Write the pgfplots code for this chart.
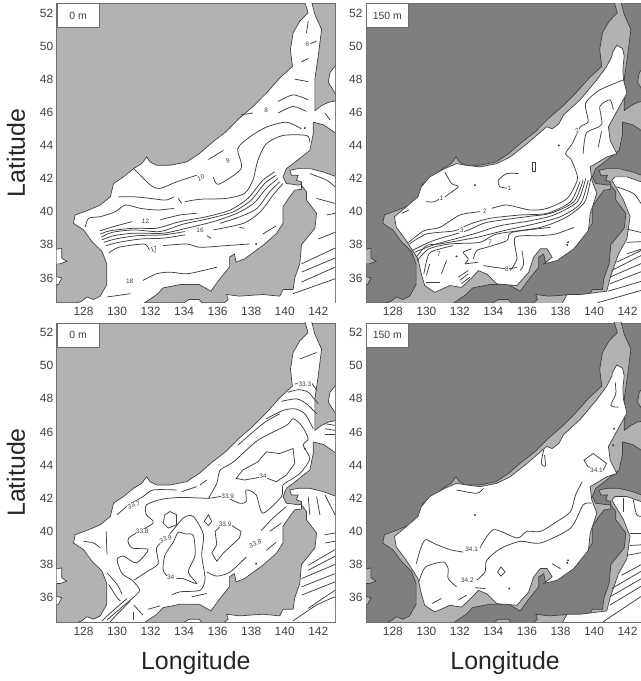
\documentclass[border=0pt]{standalone}
\usepackage{fontspec}
\setmainfont{Liberation Sans}
\usepackage{pgfplots}
\pgfplotsset{compat=1.18}
\definecolor{lightland}{HTML}{B2B2B2}
\definecolor{darkland}{HTML}{7F7F7F}
\definecolor{ink}{HTML}{404040}
\definecolor{spine}{HTML}{6E6E6E}
\newcommand\C[1]{\addplot[cl] coordinates {#1};}
\newcommand\CC[1]{\addplot[cl,sharp plot] coordinates {#1} --cycle;}
\newcommand\Lb[3][0]{\node[font=\fontsize{6.5}{7}\selectfont,text=ink,rotate=#1,fill=white,inner sep=0.4pt] at (axis cs:#2) {#3};}
\newcommand\Dots[1]{\addplot[only marks,mark=*,mark size=0.8bp,color=ink] coordinates {#1};}
\newcommand\Sea[1]{%
\addplot[coast,fill=#1] coordinates {(141.19,52.7) (141.39,52.0) (140.9,51.5) (140.5,50.8) (140.34,49.78) (140.46,48.77) (139.7,48.06) (138.9,47.15) (138.1,46.34) (137.3,45.64) (136.5,44.83) (135.7,44.2) (134.9,43.5) (134.15,43.0) (133.16,42.8) (132.37,42.8) (131.97,43.0) (131.77,43.3) (131.47,42.9) (130.98,42.6) (130.38,42.1) (129.79,41.7) (129.6,40.9) (129.0,40.4) (128.3,40.1) (127.5,39.8) (127.4,39.3) (128.0,38.9) (128.5,38.2) (129.1,37.6) (129.39,36.85) (129.39,35.6) (129.0,34.9) (128.6,34.7) (128.2,34.85) (127.9,34.6) (127.5,34.45) (131.57,34.45) (132.37,35.0) (132.76,35.4) (133.75,35.6) (134.9,35.6) (135.6,35.2) (136.1,35.9) (136.7,36.65) (136.7,37.25) (137.0,37.45) (137.1,36.95) (137.6,37.15) (138.7,37.96) (139.5,38.67) (139.9,39.3) (139.9,40.3) (140.3,40.9) (140.6,41.3) (141.0,41.35) (141.0,41.65) (140.8,41.6) (140.5,41.65) (140.1,41.7) (139.9,42.1) (140.1,42.6) (140.5,42.9) (141.5,43.7) (141.7,44.7) (141.7,45.4) (142.3,45.25) (143.1,44.7) (143.1,46.7) (142.6,46.6) (142.2,46.4) (141.8,46.1) (141.8,47) (141.8,48) (142,49.4) (142.2,51) (141.8,51.9) (141.6,52.7)} --cycle;
\addplot[coast,fill=#1] coordinates {(140.3,42.5) (140.8,42.6) (141.5,42.6) (142.3,42.4) (143.1,42.1) (143.1,34.45) (136.33,34.45) (136.63,34.7) (136.53,35) (137.3,34.9) (138.7,35) (139.7,34.9) (139.9,35.3) (140.5,35.3) (140.6,36) (140.9,36.85) (141,38) (141.8,39) (141.9,39.9) (141.3,40.7) (141.3,41.2) (141,41.6) (141,41.8) (140.7,41.9) (140.8,42.2) (140.4,42.2)} --cycle;
\addplot[coast,fill=#1] coordinates {(143.1,48.9) (142.7,48.4) (142.6,47.8) (143.1,47.0)} --cycle;
\addplot[coast,fill=#1] coordinates {(133.9,34.45) (134.3,34.7) (134.9,34.7) (135.1,34.45)} --cycle;
\addplot[coast,fill=#1] coordinates {(126.3,37.7) (126.7,37.8) (126.7,37.2) (127,37) (126.6,36.85) (126.3,36.85)} --cycle;
\addplot[coast,fill=#1] coordinates {(126.3,36.1) (126.7,36) (126.5,35.6) (126.3,35.6)} --cycle;
}
\newcommand\Deep{%
\addplot[coast,fill=white] coordinates {(141.36,50.05) (141.1,49.6) (141.06,49.37) (140.76,48.77) (140.17,47.96) (139.17,46.75) (138.18,45.84) (137.9,45.3) (137.5,45.0) (137.18,45.13) (136.0,44.1) (135.0,43.3) (134.2,42.9) (133.2,42.7) (132.4,42.8) (131.8,42.9) (131.1,42.6) (130.2,42.1) (129.7,41.5) (129.5,40.9) (128.7,40.2) (128.1,39.7) (128.2,39.07) (128.8,38.26) (129.5,37.15) (129.7,36.24) (129.9,35.54) (130.5,35.13) (131.4,35.54) (132.1,35.43) (132.7,36.0) (133.1,36.44) (133.6,36.24) (134.2,35.64) (135.4,35.54) (136.1,36.34) (136.4,37.25) (136.8,37.76) (137.2,37.76) (137.5,37.25) (137.0,36.85) (137.8,37.05) (138.8,37.76) (139.67,38.87) (139.77,39.88) (140.17,41.1) (139.87,41.9) (139.77,42.7) (140.76,43.3) (141.36,43.5) (140.96,44.3) (140.86,45.13) (141.96,47.15) (141.76,47.96) (141.72,48.6) (141.8,49.4) (141.7,49.85)} --cycle;
\addplot[coast,fill=white] coordinates {(141.06,41.9) (141.26,42.1) (141.96,42.1) (143.1,41.7) (143.1,34.45) (138.08,34.45) (138.4,35) (139.2,35) (140.76,35.2) (140.96,36) (141.46,37.45) (141.96,38.35) (142.15,39.7) (141.76,40.7)} --cycle;
}
\pgfplotsset{
 cl/.style={color=ink,line width=0.75bp,smooth,tension=0.45,no markers},
 coast/.style={draw=ink,line width=0.7bp,no markers,forget plot},
 panel/.style={
  scale only axis,width=278.3bp,height=299bp,
  xmin=126.4,xmax=143,ymin=34.53,ymax=52.58,
  xtick={128,130,...,142},ytick={36,38,...,52},
  major tick length=0pt,
  axis line style={color=spine,line width=0.8bp},
  tick label style={font=\fontsize{12}{14}\selectfont,text=ink},
  /pgf/number format/assume math mode=true,
  xticklabel style={yshift=-1.5bp},
  yticklabel style={xshift=0bp},
  clip=true,
 },
 ylab/.style={ylabel={Latitude},ylabel style={font=\fontsize{25}{28}\selectfont,text=black!85,at={(axis description cs:-0.146,0.5)},anchor=center,rotate=0}},
 xlab/.style={xlabel={Longitude},xlabel style={font=\fontsize{25}{28}\selectfont,text=black!85,at={(axis description cs:0.5,-0.137)},anchor=center}},
}
\newcommand\Tag[1]{\node[draw=spine,line width=0.7bp,fill=white,anchor=north west,minimum width=42bp,minimum height=24bp,inner sep=0pt,font=\fontsize{10.5}{12}\selectfont,text=ink] at (rel axis cs:0,1) {#1};}
\begin{document}
\begin{tikzpicture}[x=1bp,y=1bp]
\useasboundingbox (0,0) rectangle (641,681);
% ---------- top left: 0 m temperature
\begin{axis}[panel,ylab,at={(56.7bp,378.7bp)},axis background/.style={fill=lightland}]
\Sea{white}
\C{(130.1,40.9) (131,40.9) (132,40.8) (132.9,40.7) (133.4,40.9)}
\C{(128.1,39.05) (128.3,39.6) (129,39.7) (129.9,40) (130.5,40.4) (131.4,40.2) (132.4,40.1) (133.4,40.2)}
\C{(134.05,40.6) (134.95,40.75) (136.5,40.8) (137.6,41.1) (138.1,41.9) (138.4,43.1) (138.9,44.1) (139.9,44.6) (141.3,44.6) (141.5,44.2)}
\C{(135.75,42.1) (136.05,41.65) (137.4,42.6) (137.2,43.8) (137.9,44.5) (138.9,45.1) (140.1,45.4) (141,45)}
\C{(139.6,45.95) (140.5,46.35) (141.3,46.05)}
\C{(137.4,45.85) (138.1,45.95)}
\C{(139.6,46.65) (140.5,47.05) (141.4,46.75)}
\C{(140.6,48) (141.4,47.85)}
\C{(141,49.05) (141.4,49.25)}
\C{(141.4,51.5) (141.3,50.8)}
\C{(141.2,50) (141.9,50.3)}
\C{(135.45,43.15) (136.35,43.7)}
\C{(131,42.6) (132,41.6) (132.55,41.4) (133.55,41.8) (134.75,42.2)}
\C{(129,38.85) (129.8,39.1) (130.9,39.4)}
\C{(132.55,39.5) (133.75,39.8) (134.75,39.9)}
\C{(129,38.65) (129.6,38.85) (131,39) (132.35,39) (133.75,39.4) (135.35,39.7) (136.75,40.1) (137.8,40.8) (138.7,41.9) (139.4,42.4)}
\C{(129.05,38.45) (129.7,38.75) (131,38.9) (132.55,38.8) (133.95,39.25) (135.55,39.6) (136.95,40) (138,40.7) (138.8,41.7) (139.5,42.2)}
\C{(129.1,38.3) (129.8,38.55) (131,38.7) (132.75,38.7) (134.15,39) (135.75,39.4) (137.15,39.9) (138.15,40.5) (138.9,41.4) (139.6,42)}
\C{(129.2,38.15) (129.9,38.35) (131.2,38.55) (132.75,38.6) (134.05,38.8)}
\C{(136.15,39.3) (137.35,39.7) (138.35,40.2) (139.1,41.2) (139.7,41.8)}
\C{(129.35,37.95) (130.1,38.15) (131.4,38.35) (132.75,38.4) (134.05,38.6)}
\C{(135.75,38.9) (137.55,39.3) (138.55,40) (139.3,41) (139.9,41.7)}
\C{(129.5,37.5) (130.1,37.85) (131.6,38.05) (131.9,37.75) (132.3,37.55)}
\C{(132.75,37.95) (134.15,38.05) (134.95,37.85) (136.5,37.95) (137.9,38.05)}
\C{(138.7,38.65) (139.5,39.15)}
\C{(131.55,35.85) (132.35,36.25) (133.15,36.35) (134.15,36.25) (135.15,36.45) (135.95,36.65)}
\C{(129.4,34.85) (130.8,35.05)}
\C{(137.3,39.05) (137.6,39)}
\C{(135.35,38.55) (135.6,38.4)}
\C{(133.65,40.8) (133.85,40.5)}
\C{(140.5,35.05) (143,35.95)}
\C{(141,35.75) (143,36.65)}
\C{(141,36.35) (143,37.2)}
\C{(141,36.85) (143,37.8)}
\C{(142,38.35) (143,38.75)}
\C{(142.5,39.8) (143,39.9)}
\C{(141.9,40.8) (143,40.5)}
\C{(141.5,42.3) (142.5,41.9) (143,41.5)}
\C{(142.4,45.95) (142.7,45.55)}
\Dots{(138.3,38.05) (141.2,45.05)}
\Lb{138.9,46.15}{8}\Lb[20]{136.6,43.05}{9}\Lb[20]{135,42.05}{10}\Lb{131.7,39.4}{12}\Lb{134.95,38.85}{16}\Lb[20]{132.2,37.75}{17}\Lb{130.75,35.8}{18}\Lb{141.35,50.1}{6}
\Tag{0 m}
\end{axis}
% ---------- top right: 150 m temperature
\begin{axis}[panel,at={(366bp,378.7bp)},axis background/.style={fill=darkland}]
\Sea{lightland}
\Deep
\C{(128.55,39.9) (128.95,40.1)}
\C{(129.95,40.6) (130.5,40.6) (130.8,40.8)}
\C{(131.1,40.9) (131.9,41.5) (131.5,41.7) (131.1,42.4)}
\C{(135,41.4) (134.4,41.5) (134.3,41.9) (134.8,42.3) (135.5,42.3)}
\CC{(136.33,43) (136.5,43) (136.5,42.45) (136.33,42.45)}
\C{(128.95,38.15) (129.85,38.85) (130.8,39.05) (132,39.8) (133.2,40)}
\C{(133.9,40.2) (134.8,40.4) (136.2,40.1) (137.2,40.2) (138.4,40.8) (139,41.9) (138.9,42.5) (138.6,43.2) (138.3,43.5) (138.7,44.1) (139,44.75) (139.2,45.15) (139.65,45.45) (139.5,46.55) (140.35,47.35) (141.75,47.95)}
\C{(139.35,43.5) (139.55,44.75) (140.45,45.25) (140.35,46.35) (140.95,46.75) (141.15,46.15)}
\C{(140.25,43.9) (140.45,44.85)}
\C{(129,38.05) (130,38.65) (131.7,38.85) (132.6,39.25) (133.8,39.6) (135.6,39.8) (137.2,39.9) (138.6,40.6) (139.15,41.8)}
\C{(129.15,37.65) (130.4,38.25) (132.4,38.85) (133.6,39.35) (136,39.7) (137.4,39.9) (138.8,40.6) (139.35,41.9)}
\C{(129.3,37.55) (130.6,38.05) (132.8,38.65) (134.4,39.15) (136.2,39.45) (137.6,39.8) (139,40.6) (139.5,42)}
\C{(129.4,37.25) (130,37.95) (130.8,38.05) (133,38.45) (134.6,38.85) (136.4,39.25) (138,39.7) (139.2,40.5) (139.65,41.9)}
\C{(129.45,37.05) (130.15,37.75) (131.4,38.05) (133.2,38.15) (134.2,38.65) (136.8,39.05) (138.4,39.7) (139.45,40.6) (139.8,42)}
\C{(129.85,36.25) (130.15,37.45) (130.8,37.75) (131.6,37.95)}
\C{(132.3,36.85) (132.5,37.15) (132.2,37.55) (132.7,37.75)}
\C{(132.8,37.15) (133,37.65) (133.6,37.85) (134.8,38.25) (135.1,38.75) (137.4,39.05)}
\C{(135,36.45) (135.4,37.15) (135.3,38.45) (136.8,38.55) (137.7,38.65) (138.8,39.05)}
\C{(130,36.15) (130.2,36.85)}
\C{(130.9,36.25) (131.2,37.05)}
\C{(132.3,36.85) (133.1,36.95)}
\C{(133.4,36.75) (134.8,36.55) (135.4,36.65)}
\C{(135.7,37.65) (135.8,36.85) (135.6,36.45)}
\C{(130,35.75) (130.8,35.75)}
\C{(131.9,36.05) (132.5,36.45)}
\C{(132,35.85) (132.5,36.25)}
\C{(132.1,35.65) (132.6,36.05)}
\C{(140.2,34.5) (141.95,35) (143,35.3)}
\C{(140.85,35.2) (143,35.85)}
\C{(140.95,35.65) (143,36.45)}
\C{(140.95,36.05) (143,36.95)}
\C{(141.05,36.45) (143,37.45)}
\C{(141.35,36.95) (143,37.75)}
\C{(141.95,37.45) (143,37.8)}
\C{(141.95,38.15) (143,38.2)}
\C{(141.95,38.95) (143,38.7)}
\C{(141.35,41.5) (142.35,41.1) (142.8,40.5) (143,40.3)}
\Dots{(137.9,44) (132.9,41.6) (138.4,38) (138.45,38.15) (131.8,37.3)}
\Lb{130.9,40.8}{1}\Lb{134.95,41.4}{1}\Lb{133.5,40}{2}\Lb[20]{139,44.9}{2}\Lb{132.1,38.9}{3}\Lb{133.8,38.15}{7}\Lb{130.75,37.4}{7}\Lb{134.8,36.55}{8}
\Tag{150 m}
\end{axis}
% ---------- bottom left: 0 m salinity
\begin{axis}[panel,ylab,xlab,at={(56.7bp,59bp)},axis background/.style={fill=lightland}]
\Sea{white}
\C{(140.9,50.4) (141.9,50.8)}
\C{(140.6,48.9) (141.2,48.95) (141.6,48.95) (141.9,48.5)}
\C{(140.2,48.4) (140.8,48.55) (141.4,48.4) (142,47.7)}
\C{(139.8,47.85) (140.7,48) (141.3,47.7) (141.9,47.1)}
\C{(138.9,46.8) (139.9,47.3) (140.6,47.4) (141.2,47.1) (141.7,46.2)}
\C{(137.2,45.2) (138.7,46.5) (139.7,47.1)}
\C{(135.45,42) (135.95,42.9) (136.15,43.7) (136.95,44.2) (138.4,45.5) (140.1,46.4) (140.5,46.8) (141,46.4) (141.4,45.6) (141.1,45.2) (141.5,44.4) (141,43.6) (140.5,43.2) (139.9,42.8) (139.8,42.1) (138.7,41.1) (138.3,42.2) (137.7,42.5) (137.7,41.8) (137.3,41.7) (136.35,42.1) (135.45,42) (133.9,42.05) (132.7,41.95) (131.75,41.6) (131.75,41) (132.15,40.5) (130.7,39.6) (130.9,39) (131.85,38.9) (131.15,38.1) (130.4,38.5) (130,38.3) (130.3,37.45) (130.9,37.05) (131.35,36.45) (130.9,35.95) (130.2,35.35) (129.4,34.65)}
\C{(130,41) (130.7,41.6) (131.55,42.1) (132.15,42.5) (133.55,42.5)}
\C{(133.85,42.4) (134.75,42.7)}
\C{(134.95,42.8) (135.35,43.1)}
\CC{(132.85,41.0) (133.15,41.2) (133.55,41) (133.55,40.4) (133.05,40.2) (132.75,40.5)}
\CC{(135.45,41) (135.65,40.6) (135.45,40.35) (135.2,40.6)}
\C{(131,37.05) (131.75,37.55) (132.45,38.05) (132.35,39) (132.95,39.6) (133.95,40.8) (134.55,40.9) (135.15,39.8) (135.05,38.55) (135.25,37.15) (134.95,36.45) (133.75,36.35) (133.25,36.15)}
\C{(133.55,37.15) (133.95,37.15) (134.75,36.85) (134.25,37.55) (134.65,38.55) (134.55,39.75) (134.05,39.85) (133.65,39.95) (133.35,39.35) (132.85,38.55) (132.75,37.65) (133.05,37.25)}
\CC{(136.15,40.3) (135.85,40) (135.95,39.2) (135.65,38.7) (135.95,38.2) (136.35,38.7) (137.3,39.6) (137.4,40) (136.85,40.35)}
\C{(135.35,37.55) (135.95,37.3) (136.75,37.55) (137.7,38.45)}
\C{(138.6,40.05) (139.3,40.8) (140.1,41.5)}
\C{(138.9,38.85) (139.5,39.35)}
\C{(139.1,40) (139.8,40.5)}
\CC{(137.1,43.2) (137.5,43.7) (138.4,44.2) (138.9,44.8) (139.7,44.7) (140.5,45) (140.6,44.1) (140.1,43.4) (139.5,43) (138.7,43.3) (137.6,43.1)}
\C{(128,39.4) (128.6,39.3) (129,39)}
\C{(129.35,40) (129.4,38.6)}
\C{(129.4,37.5) (130,36.8) (130.3,36.2)}
\C{(129.5,36.8) (130,36) (130.2,35.8)}
\C{(131,35.55) (131.55,34.95)}
\C{(131,35.15) (131,34.65)}
\C{(130.8,35.8) (130,35) (129.6,34.55)}
\C{(130.6,35.95) (129.8,35.25) (129.1,34.6)}
\C{(131.85,35.3) (132.55,35.5)}
\C{(134.45,36.05) (135.35,36.25)}
\C{(140.5,34.6) (141.9,35.55) (143,36.05)}
\C{(141.4,35.35) (143,36.45)}
\C{(141,36.15) (143,36.95)}
\C{(141,36.65) (143,37.45)}
\C{(141,37.15) (143,38)}
\C{(141.4,37.65) (143,38.5)}
\C{(141.4,37.95) (143,38.9)}
\C{(142.4,39.3) (143,39.4)}
\C{(142.4,39.8) (143,39.9)}
\C{(141.4,42.1) (141.5,41)}
\C{(141.9,42.1) (142.1,41)}
\C{(142.4,42.2) (143,41)}
\C{(142.4,46.5) (143,46.4)}
\C{(142.4,46.2) (143,46.1)}
\C{(142.4,45.85) (143,45.85)}
\Dots{(138.3,38.05) (141.2,45)}
\Lb{141.2,48.9}{33.3}\Lb[20]{131,41.6}{33.7}\Lb{131.5,40}{33.8}\Lb[20]{132.9,39.55}{33.9}\Lb{136.6,42.1}{33.9}\Lb{138.7,43.3}{34}\Lb{136.45,40.45}{33.9}\Lb[20]{138.25,39.25}{33.8}\Lb{133.2,37.2}{34}
\Tag{0 m}
\end{axis}
% ---------- bottom right: 150 m salinity
\begin{axis}[panel,xlab,at={(366bp,59bp)},axis background/.style={fill=darkland}]
\Sea{lightland}
\Deep
\C{(141.26,49) (141.3,48.3) (141,47.6) (141.45,47.5)}
\C{(137,44.9) (136.85,44.1) (137.1,43.95) (137.05,44.6)}
\CC{(139.4,44.3) (139.95,44.7) (140.75,44.1) (140.55,43.7) (139.65,43.9)}
\C{(129.4,38.05) (129.65,38.95) (129.95,39.5) (130.5,39.25) (131.4,38.9) (132.2,38.75)}
\C{(133.2,39) (134,40.1) (135.4,39.6) (136,40) (136.8,40) (137.8,40.6) (138.6,41.2) (138.9,42.2) (139.3,43)}
\C{(129.55,36.95) (129.95,37.85) (131,38.15) (131.3,37.75) (131.3,37.15) (131.8,36.65)}
\C{(133,37.05) (133.5,37.55) (133.6,38.25) (134.4,38.95) (135.6,39.4) (136.8,39.3) (138.6,40.2) (139.35,41.6) (139.85,41.7)}
\C{(131.8,42.5) (133,42.3) (133.4,42.6)}
\CC{(134.45,37.85) (134.7,37.55) (134.45,37.3) (134.25,37.55)}
\C{(130.35,35.65) (130.9,35.95)}
\C{(131.9,35.85) (132.4,36.15)}
\C{(132.9,36.6) (133.5,36.55)}
\C{(137.5,38.05) (138,37.75)}
\C{(140.55,34.55) (143,36.2)}
\C{(140.95,35.55) (143,36.8)}
\C{(140.95,36.05) (143,37.25)}
\C{(141.05,36.55) (143,37.7)}
\C{(141.65,37.35) (143,38.1)}
\C{(141.95,38.55) (143,38.75)}
\C{(142.15,39.15) (143,39.2)}
\C{(142.15,39.85) (143,39.85)}
\C{(141.75,42) (141.75,41.2)}
\C{(142.35,41.9) (142.55,41) (143,40.9)}
\Dots{(132.9,41) (141.2,46.2) (141.15,45.2) (134.95,36.55) (138.4,38.1) (138.45,38.25)}
\Lb{132.7,38.95}{34.1}\Lb{140.15,43.7}{34.1}\Lb{132.45,37.05}{34.2}
\Tag{150 m}
\end{axis}
\end{tikzpicture}
\end{document}
